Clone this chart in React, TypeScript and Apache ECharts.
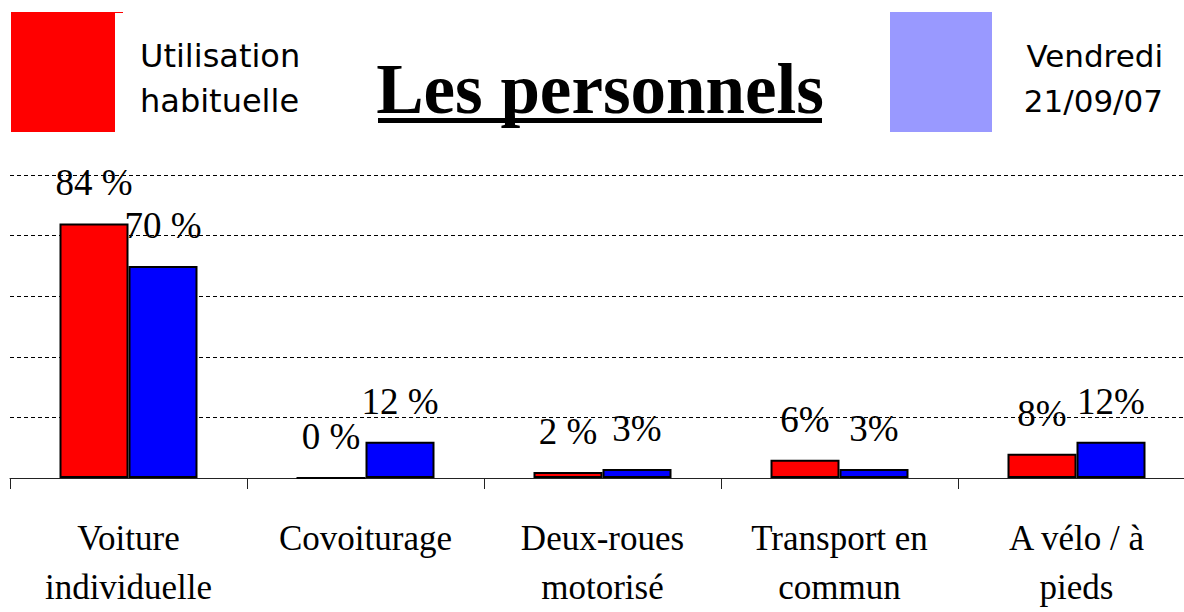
import React, { useEffect, useRef } from "react";
import * as echarts from "echarts";

const categories = [
  "Voiture\nindividuelle",
  "Covoiturage",
  "Deux-roues\nmotorisé",
  "Transport en\ncommun",
  "A vélo / à\npieds",
];
const habituelleValues = [84, 0, 2, 6, 8];
const vendrediValues = [70, 12, 3, 3, 12];
const habituelleLabels = ["84 %", "0 %", "2 %", "6%", "8%"];
const vendrediLabels = ["70 %", "12 %", "3%", "3%", "12%"];
const yTicks = { min: 0, max: 100, interval: 20 };

const legendNames = ["Utilisation\nhabituelle", "Vendredi\n21/09/07"];
const titleText = "Les personnels";

export default function App() {
  const ref = useRef<HTMLDivElement>(null);
  useEffect(() => {
    if (!ref.current) return;
    const chart = echarts.init(ref.current, null, { renderer: "svg" });
    const serif = "Liberation Serif, Times New Roman, serif";
    const sans = "DejaVu Sans, sans-serif";
    const labelStyle = {
      show: true,
      position: "top" as const,
      distance: 22,
      fontFamily: serif,
      fontSize: 37,
      color: "#000",
    };
    chart.setOption({
      animation: false,
      backgroundColor: "#fff",
      grid: { left: 10, width: 1185, top: 175, height: 303 },
      xAxis: {
        type: "category",
        data: categories,
        axisLine: { lineStyle: { color: "#222", width: 1 } },
        axisTick: { show: true, length: 11, lineStyle: { color: "#222" } },
        axisLabel: {
          interval: 0,
          margin: 36,
          fontFamily: serif,
          fontSize: 35,
          lineHeight: 49,
          color: "#000",
        },
      },
      yAxis: {
        type: "value",
        min: yTicks.min,
        max: yTicks.max,
        interval: yTicks.interval,
        axisLabel: { show: false },
        axisLine: { show: false },
        axisTick: { show: false },
        splitLine: { lineStyle: { color: "#000", width: 1, type: [4, 3] } },
      },
      series: [
        {
          name: legendNames[0],
          type: "bar",
          data: habituelleValues,
          barWidth: 69,
          barGap: "0%",
          itemStyle: { color: "#ff0000", borderColor: "#000", borderWidth: 2 },
          label: { ...labelStyle, formatter: (p: any) => habituelleLabels[p.dataIndex] },
        },
        {
          name: legendNames[1],
          type: "bar",
          data: vendrediValues,
          barWidth: 69,
          barGap: "0%",
          itemStyle: { color: "#0000ff", borderColor: "#000", borderWidth: 2 },
          label: { ...labelStyle, formatter: (p: any) => vendrediLabels[p.dataIndex] },
        },
      ],
      graphic: [
        { type: "rect", shape: { x: 11, y: 12, width: 104, height: 120 }, style: { fill: "#ff0000" } },
        { type: "rect", shape: { x: 115, y: 12, width: 8, height: 1 }, style: { fill: "#ff0000" } },
        {
          type: "text",
          x: 140,
          y: 33,
          style: {
            text: legendNames[0],
            font: `32px ${sans}`,
            lineHeight: 45,
            fill: "#000",
          },
        },
        { type: "rect", shape: { x: 890, y: 12, width: 102, height: 120 }, style: { fill: "#9999ff" } },
        {
          type: "text",
          x: 1163,
          y: 33,
          style: {
            text: legendNames[1],
            font: `31px ${sans}`,
            lineHeight: 45,
            align: "right",
            fill: "#000",
          },
        },
        {
          type: "text",
          x: 600,
          y: 89,
          style: {
            text: titleText,
            font: `bold 71px ${serif}`,
            align: "center",
            verticalAlign: "middle",
            fill: "#000",
          },
        },
        { type: "rect", shape: { x: 378, y: 118, width: 444, height: 5 }, style: { fill: "#000" } },
      ],
    });
    return () => chart.dispose();
  }, []);
  return (
    <div
      style={{ position: "absolute", left: 0, top: 0, width: 1184, height: 612, overflow: "hidden" }}
    >
      <div ref={ref} style={{ width: 1200, height: 612 }} />
    </div>
  );
}
